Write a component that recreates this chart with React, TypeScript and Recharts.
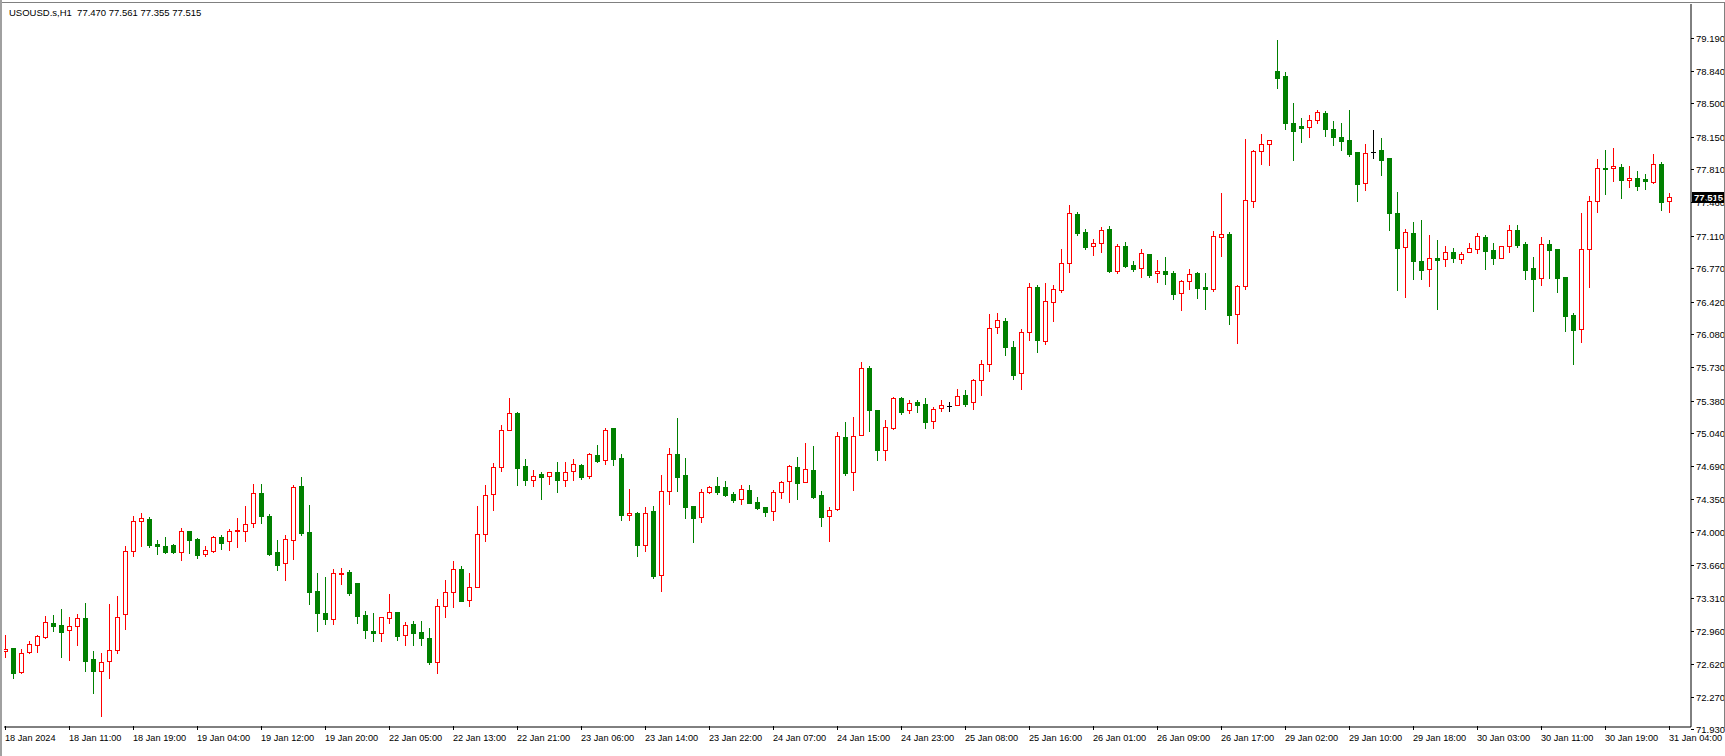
import React from 'react';
import { ComposedChart, Bar, XAxis, YAxis, ReferenceLine } from 'recharts';

const SYMBOL = 'USOUSD.s,H1';
const LAST_OHLC = ['77.470', '77.561', '77.355', '77.515'];
const LAST_PRICE = 77.515;

const OPEN = [
  72.750, 72.785, 72.530, 72.740, 72.813, 72.897, 73.048, 73.027, 72.971, 73.013,
  73.100, 72.666, 72.547, 72.645, 72.761, 73.139, 73.800, 74.120, 74.139, 73.877,
  73.856, 73.866, 73.796, 74.013, 73.929, 73.768, 73.807, 73.950, 73.905, 74.010,
  74.010, 74.094, 74.408, 74.167, 73.789, 73.674, 73.915, 74.482, 74.003, 73.380,
  73.152, 73.085, 73.565, 73.582, 73.467, 73.127, 72.963, 72.938, 73.096, 73.162,
  72.917, 73.033, 72.949, 72.886, 72.641, 73.222, 73.369, 73.610, 73.285, 73.421,
  73.977, 74.397, 74.680, 75.069, 75.247, 74.691, 74.544, 74.607, 74.586, 74.628,
  74.551, 74.638, 74.705, 74.586, 74.806, 74.754, 75.093, 74.775, 74.184, 74.198,
  73.869, 74.219, 73.550, 74.428, 74.820, 74.600, 74.275, 74.156, 74.418, 74.481,
  74.470, 74.397, 74.345, 74.439, 74.313, 74.261, 74.219, 74.418, 74.533, 74.680,
  74.523, 74.649, 74.387, 74.166, 74.240, 74.999, 74.628, 75.017, 75.723, 75.283,
  74.859, 75.097, 75.405, 75.279, 75.363, 75.342, 75.164, 75.300, 75.325, 75.332,
  75.436, 75.363, 75.594, 75.762, 76.150, 76.217, 75.944, 75.668, 76.098, 76.574,
  76.010, 76.413, 76.546, 76.822, 77.340, 77.151, 77.007, 77.032, 77.182, 76.745,
  77.004, 76.804, 76.769, 76.920, 76.717, 76.741, 76.720, 76.507, 76.633, 76.720,
  76.573, 76.556, 77.094, 77.129, 76.286, 76.580, 77.479, 77.997, 78.070, 78.836,
  78.784, 78.291, 78.263, 78.249, 78.322, 78.396, 78.231, 78.147, 78.116, 77.990,
  77.661, 77.986, 78.011, 77.927, 77.346, 76.990, 77.140, 76.846, 76.759, 76.878,
  76.864, 76.941, 76.864, 76.937, 76.969, 77.095, 76.958, 76.874, 77.000, 77.168,
  77.021, 76.773, 76.668, 77.025, 76.972, 76.678, 76.280, 76.129, 76.969, 77.472,
  77.819, 77.819, 77.833, 77.693, 77.714, 77.707, 77.672, 77.864, 77.470,
];

const HIGH = [
  72.922, 72.785, 72.771, 72.859, 72.922, 73.121, 73.132, 73.195, 73.111, 73.142,
  73.258, 72.754, 72.736, 73.247, 73.331, 73.850, 74.170, 74.200, 74.160, 73.919,
  73.950, 73.877, 74.041, 74.013, 73.943, 73.856, 73.961, 73.971, 74.034, 74.150,
  74.275, 74.506, 74.506, 74.192, 73.919, 73.968, 74.496, 74.580, 74.282, 73.570,
  73.530, 73.614, 73.621, 73.603, 73.467, 73.176, 73.152, 73.106, 73.351, 73.162,
  73.054, 73.068, 73.068, 72.994, 73.295, 73.495, 73.694, 73.642, 73.572, 74.275,
  74.495, 74.726, 75.125, 75.410, 75.265, 74.764, 74.649, 74.631, 74.628, 74.736,
  74.736, 74.764, 74.712, 74.831, 74.915, 75.093, 75.093, 74.820, 74.453, 74.212,
  74.264, 74.275, 74.600, 74.883, 75.198, 74.778, 74.275, 74.449, 74.484, 74.579,
  74.537, 74.421, 74.491, 74.495, 74.366, 74.261, 74.442, 74.540, 74.705, 74.789,
  74.936, 74.908, 74.432, 74.264, 75.048, 75.157, 75.206, 75.786, 75.744, 75.283,
  75.178, 75.415, 75.419, 75.384, 75.384, 75.405, 75.311, 75.384, 75.370, 75.503,
  75.492, 75.604, 75.807, 76.290, 76.301, 76.245, 76.007, 76.129, 76.616, 76.595,
  76.616, 76.595, 76.972, 77.434, 77.361, 77.182, 77.077, 77.200, 77.210, 77.021,
  77.042, 76.843, 76.969, 76.920, 76.857, 76.888, 76.741, 76.647, 76.762, 76.730,
  76.720, 77.161, 77.560, 77.150, 76.591, 78.126, 78.011, 78.179, 78.112, 79.165,
  78.829, 78.504, 78.347, 78.378, 78.430, 78.420, 78.315, 78.294, 78.430, 77.990,
  78.074, 78.221, 78.137, 77.927, 77.567, 77.179, 77.255, 77.276, 77.119, 77.067,
  77.004, 76.983, 76.941, 77.035, 77.140, 77.119, 77.035, 77.000, 77.224, 77.224,
  77.046, 76.888, 77.098, 77.067, 76.972, 76.678, 76.301, 77.347, 77.532, 77.917,
  78.011, 78.032, 77.864, 77.843, 77.791, 77.756, 77.969, 77.885, 77.561,
];

const LOW = [
  72.694, 72.474, 72.525, 72.729, 72.747, 72.895, 72.967, 72.694, 72.659, 72.817,
  72.547, 72.317, 72.075, 72.474, 72.729, 72.988, 73.750, 73.860, 73.840, 73.772,
  73.786, 73.786, 73.709, 73.786, 73.733, 73.754, 73.789, 73.828, 73.817, 73.849,
  73.912, 74.059, 74.101, 73.765, 73.604, 73.499, 73.719, 73.975, 73.251, 72.965,
  73.040, 73.040, 73.460, 73.344, 73.050, 72.893, 72.862, 72.862, 73.043, 72.872,
  72.820, 72.820, 72.820, 72.620, 72.526, 73.113, 73.218, 73.281, 73.229, 73.421,
  73.911, 74.236, 74.645, 75.069, 74.495, 74.495, 74.484, 74.352, 74.509, 74.425,
  74.488, 74.551, 74.561, 74.572, 74.740, 74.719, 74.705, 74.131, 74.131, 73.753,
  73.806, 73.523, 73.383, 74.299, 74.435, 74.152, 73.900, 74.110, 74.407, 74.404,
  74.380, 74.317, 74.299, 74.310, 74.243, 74.170, 74.131, 74.362, 74.320, 74.352,
  74.523, 74.362, 74.065, 73.911, 74.230, 74.597, 74.447, 75.017, 75.066, 74.761,
  74.761, 75.087, 75.244, 75.255, 75.265, 75.097, 75.097, 75.276, 75.276, 75.332,
  75.328, 75.297, 75.443, 75.696, 76.094, 75.863, 75.612, 75.507, 76.021, 75.895,
  75.979, 76.220, 76.525, 76.734, 77.123, 76.976, 76.913, 76.944, 76.731, 76.724,
  76.783, 76.741, 76.678, 76.682, 76.630, 76.601, 76.451, 76.335, 76.556, 76.461,
  76.346, 76.535, 76.902, 76.188, 75.989, 76.556, 77.416, 77.864, 77.853, 78.665,
  78.235, 77.909, 78.098, 78.151, 78.298, 78.158, 78.067, 78.014, 77.951, 77.479,
  77.594, 77.930, 77.752, 77.171, 76.545, 76.472, 76.661, 76.661, 76.587, 76.346,
  76.797, 76.839, 76.829, 76.937, 76.934, 76.766, 76.818, 76.874, 76.944, 76.997,
  76.661, 76.325, 76.598, 76.671, 76.524, 76.112, 75.769, 75.993, 76.577, 77.357,
  77.546, 77.689, 77.511, 77.626, 77.588, 77.605, 77.661, 77.381, 77.355,
];

const CLOSE = [
  72.771, 72.527, 72.729, 72.827, 72.908, 73.055, 73.020, 72.957, 73.013, 73.097,
  72.652, 72.547, 72.638, 72.761, 73.107, 73.800, 74.120, 74.150, 73.866, 73.859,
  73.793, 73.793, 74.013, 73.922, 73.761, 73.810, 73.947, 73.887, 74.013, 74.024,
  74.083, 74.408, 74.174, 73.775, 73.660, 73.926, 74.471, 73.996, 73.377, 73.156,
  73.092, 73.568, 73.572, 73.365, 73.124, 72.977, 72.945, 73.106, 73.159, 72.914,
  73.022, 72.945, 72.893, 72.641, 73.222, 73.369, 73.610, 73.281, 73.421, 73.977,
  74.387, 74.680, 75.069, 75.247, 74.677, 74.551, 74.586, 74.582, 74.628, 74.551,
  74.628, 74.712, 74.582, 74.817, 74.750, 75.069, 74.771, 74.184, 74.198, 73.869,
  74.198, 73.543, 74.430, 74.817, 74.582, 74.268, 74.152, 74.418, 74.470, 74.425,
  74.394, 74.341, 74.449, 74.310, 74.257, 74.215, 74.418, 74.523, 74.691, 74.519,
  74.659, 74.369, 74.163, 74.229, 75.006, 74.625, 75.006, 75.720, 75.279, 74.866,
  75.101, 75.405, 75.265, 75.353, 75.339, 75.160, 75.290, 75.332, 75.325, 75.433,
  75.349, 75.594, 75.762, 76.140, 76.224, 75.947, 75.654, 76.101, 76.570, 76.021,
  76.423, 76.549, 76.822, 77.347, 77.144, 76.997, 77.032, 77.168, 76.741, 77.000,
  76.797, 76.766, 76.927, 76.703, 76.738, 76.713, 76.503, 76.633, 76.706, 76.566,
  76.556, 77.105, 77.126, 76.283, 76.580, 77.483, 77.997, 78.070, 78.112, 78.770,
  78.298, 78.214, 78.245, 78.322, 78.406, 78.235, 78.151, 78.109, 77.972, 77.657,
  77.976, 77.986, 77.909, 77.353, 76.986, 77.147, 76.850, 76.755, 76.874, 76.860,
  76.937, 76.881, 76.923, 76.979, 77.105, 76.955, 76.881, 77.000, 77.168, 77.018,
  76.755, 76.661, 77.021, 76.965, 76.671, 76.273, 76.126, 76.972, 77.472, 77.819,
  77.812, 77.840, 77.700, 77.714, 77.637, 77.686, 77.864, 77.469, 77.515,
];

const X_LABELS = [
  '18 Jan 2024', '18 Jan 11:00', '18 Jan 19:00', '19 Jan 04:00', '19 Jan 12:00', '19 Jan 20:00',
  '22 Jan 05:00', '22 Jan 13:00', '22 Jan 21:00', '23 Jan 06:00', '23 Jan 14:00', '23 Jan 22:00',
  '24 Jan 07:00', '24 Jan 15:00', '24 Jan 23:00', '25 Jan 08:00', '25 Jan 16:00', '26 Jan 01:00',
  '26 Jan 09:00', '26 Jan 17:00', '29 Jan 02:00', '29 Jan 10:00', '29 Jan 18:00', '30 Jan 03:00',
  '30 Jan 11:00', '30 Jan 19:00', '31 Jan 04:00',
];
const BARS_PER_LABEL = 8;

const Y_TICKS = [
  71.93, 72.27, 72.62, 72.96, 73.31, 73.66, 74.0, 74.35, 74.69, 75.04, 75.38,
  75.73, 76.08, 76.42, 76.77, 77.11, 77.46, 77.81, 78.15, 78.5, 78.84, 79.19,
];

const BULL = '#ff0000';
const BEAR = '#008000';
const DOJI = '#000000';
const FONT = '"Liberation Sans", Arial, sans-serif';

const data = OPEN.map((o, i) => ({
  i,
  open: o,
  high: HIGH[i],
  low: LOW[i],
  close: CLOSE[i],
  range: [LOW[i], HIGH[i]],
}));

const X_TICKS = X_LABELS.map((_, k) => k * BARS_PER_LABEL);

function Candle(props: any) {
  const { x, y, width, height, payload } = props;
  if (!payload || x == null || y == null) return null;
  const { open, high, low, close } = payload;
  const span = high - low;
  const k = span > 0 ? height / span : 0;
  const yOf = (v: number) => y + (high - v) * k;
  const c = Math.round(x + width / 2);
  const up = close > open;
  const doji = close === open;
  const color = doji ? DOJI : up ? BULL : BEAR;
  const top = Math.round(yOf(Math.max(open, close)));
  const bot = Math.round(yOf(Math.min(open, close)));
  const yH = Math.round(y);
  const yL = Math.round(y + height);
  const wick = <line x1={c + 0.5} x2={c + 0.5} y1={yH} y2={yL + 1} stroke={color} strokeWidth={1} />;
  if (doji || bot - top < 1) {
    return (
      <g>
        {wick}
        <line x1={c - 2} x2={c + 3} y1={top + 0.5} y2={top + 0.5} stroke={color} strokeWidth={1} />
      </g>
    );
  }
  if (up) {
    return (
      <g>
        {wick}
        <rect x={c - 1.5} y={top + 0.5} width={4} height={bot - top} fill="#ffffff" stroke={color} strokeWidth={1} />
      </g>
    );
  }
  return (
    <g>
      {wick}
      <rect x={c - 2} y={top} width={5} height={bot - top + 1} fill={color} />
    </g>
  );
}

function XTick(props: any) {
  const { x, y, payload } = props;
  const idx = Math.round(payload.value / BARS_PER_LABEL);
  const label = X_LABELS[idx];
  const px = Math.round(x);
  return (
    <g>
      <line x1={px + 0.5} x2={px + 0.5} y1={y - 1} y2={y + 3} stroke="#000" />
      <text x={px} y={y + 14} fontSize={9.2} fontFamily={FONT} fill="#000" textAnchor="start">
        {label}
      </text>
    </g>
  );
}

function YTick(props: any) {
  const { x, y, payload } = props;
  const py = Math.round(y);
  return (
    <g>
      <line x1={x} x2={x + 3} y1={py + 0.5} y2={py + 0.5} stroke="#000" />
      <text x={x + 5} y={py + 3.5} fontSize={9.5} fontFamily={FONT} fill="#000" textAnchor="start">
        {payload.value.toFixed(3)}
      </text>
    </g>
  );
}

function PriceTag(props: any) {
  const { viewBox } = props;
  if (!viewBox) return null;
  const right = viewBox.x + viewBox.width;
  const yy = Math.round(viewBox.y);
  return (
    <g>
      <rect x={right + 1} y={yy - 5} width={40} height={11} fill="#000" />
      <text x={right + 3} y={yy + 4} fontSize={9.5} fontFamily={FONT} fill="#fff" fontWeight="bold">
        {LAST_PRICE.toFixed(3)}
      </text>
    </g>
  );
}

export default function App() {
  return (
    <div style={{ position: 'absolute', left: 0, top: 0, width: 1725, height: 756, background: '#fff' }}>
      <ComposedChart
        width={1725}
        height={756}
        data={data}
        margin={{ top: 4, right: 0, bottom: 0, left: 4 }}
      >
        <XAxis
          xAxisId="main"
          dataKey="i"
          type="number"
          domain={[-0.1625, 210.7125]}
          allowDataOverflow
          ticks={X_TICKS}
          interval={0}
          height={29}
          tickLine={false}
          tickSize={0}
          tickMargin={0}
          tick={<XTick />}
          axisLine={{ stroke: '#000', strokeWidth: 1 }}
        />
        <XAxis
          xAxisId="top"
          orientation="top"
          dataKey="i"
          type="number"
          domain={[-0.1625, 210.7125]}
          height={0}
          tick={false}
          tickLine={false}
          axisLine={{ stroke: '#000', strokeWidth: 1 }}
        />
        <YAxis
          yAxisId="main"
          orientation="right"
          type="number"
          domain={[71.956, 79.542]}
          allowDataOverflow
          ticks={Y_TICKS}
          interval={0}
          width={34}
          tickLine={false}
          tickSize={0}
          tickMargin={0}
          tick={<YTick />}
          axisLine={{ stroke: '#000', strokeWidth: 1 }}
        />
        <YAxis
          yAxisId="left"
          orientation="left"
          type="number"
          domain={[71.956, 79.542]}
          width={0}
          tick={false}
          tickLine={false}
          axisLine={{ stroke: '#000', strokeWidth: 1 }}
        />
        <Bar
          xAxisId="main"
          yAxisId="main"
          dataKey="range"
          barSize={5}
          shape={<Candle />}
          isAnimationActive={false}
        />
        <ReferenceLine
          xAxisId="main"
          yAxisId="main"
          y={LAST_PRICE}
          stroke="none"
          label={<PriceTag />}
          ifOverflow="visible"
        />
      </ComposedChart>
      <div
        style={{
          position: 'absolute',
          left: 2,
          top: 2,
          width: 1722,
          height: 1,
          background: '#808080',
        }}
      />
      <div
        style={{
          position: 'absolute',
          left: 1724,
          top: 2,
          width: 1,
          height: 726,
          background: '#808080',
        }}
      />
      <div
        style={{
          position: 'absolute',
          left: 0,
          top: 0,
          width: 2,
          height: 756,
          background: '#a0a0a0',
        }}
      />
      <div
        style={{
          position: 'absolute',
          left: 9,
          top: 7,
          fontFamily: FONT,
          fontSize: 9.5,
          color: '#000',
          whiteSpace: 'pre',
          lineHeight: '12px',
        }}
      >
        {SYMBOL + '  ' + LAST_OHLC.join(' ')}
      </div>
    </div>
  );
}
